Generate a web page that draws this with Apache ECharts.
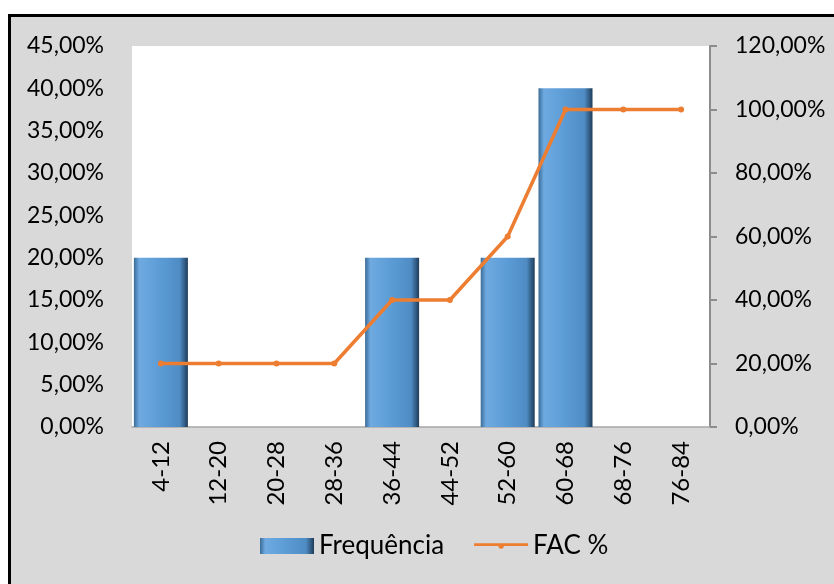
<!DOCTYPE html>
<html>
<head>
<meta charset="utf-8">
<script src="https://cdn.jsdelivr.net/npm/echarts@6/dist/echarts.min.js"></script>
<style>
html,body{margin:0;padding:0;background:#fff;}
#main{width:834px;height:584px;}
</style>
</head>
<body>
<div id="main"></div>
<script>
// classes de idade
var classes = ['4-12','12-20','20-28','28-36','36-44','44-52','52-60','60-68','68-76','76-84'];
// frequencia relativa (%)
var frequencia = [20,0,0,0,20,0,20,40,0,0];
// frequencia acumulada (%)
var fac = [20,20,20,20,40,40,60,100,100,100];

var fonte = 'Lato';

var pct = function(v){
    return v.toFixed(2).replace('.', ',') + '%';
}

var myChart = echarts.init(document.getElementById('main'));

var barColor = new echarts.graphic.LinearGradient(0,0,1,0,[
    {offset:0, color:'#3b6c98'},
    {offset:0.1, color:'#6eaae0'},
    {offset:0.5, color:'#5b9bd5'},
    {offset:0.85, color:'#4f8cc4'},
    {offset:1, color:'#1e3c5a'}
]);

var option = {
    backgroundColor:'#fff',
    animation:false,
    graphic:[{
        type:'rect',
        z:-10,
        shape:{x:9.5, y:15.5, width:900, height:700},
        style:{fill:'#d9d9d9', stroke:'#000', lineWidth:3}
    },{
        type:'rect',
        z:-9,
        shape:{x:132, y:46, width:578, height:381},
        style:{fill:'#fff'}
    }],
    grid:{left:132, right:124, top:46, bottom:157},
    legend:{
        bottom:20,
        left:255,
        itemWidth:54,
        itemHeight:16,
        itemGap:30,
        textStyle:{fontFamily:fonte, fontSize:26, color:'#000'},
        data:[
            {name:'Frequência', icon:'rect'},
            {name:'FAC %', icon:'path://M0,6 L40,6 L40,8 L22,8 A2,2 0 1 1 18,8 L0,8 Z'}
        ]
    },
    xAxis:{
        type:'category',
        data:classes,
        axisLine:{lineStyle:{color:'#a6a6a6', width:1.5}},
        axisTick:{show:false},
        axisLabel:{rotate:90, margin:14, fontFamily:fonte, fontSize:24, color:'#000'}
    },
    yAxis:[{
        type:'value',
        min:0, max:45, interval:5,
        axisLine:{show:false},
        axisTick:{show:false},
        splitLine:{show:false},
        axisLabel:{margin:28, fontFamily:fonte, fontSize:23, color:'#000', formatter:pct}
    },{
        type:'value',
        min:0, max:120, interval:20,
        axisLine:{show:true, lineStyle:{color:'#8c8c8c', width:2}},
        axisTick:{show:true, length:7, lineStyle:{color:'#8c8c8c', width:2}},
        splitLine:{show:false},
        axisLabel:{margin:25, fontFamily:fonte, fontSize:23, color:'#000', formatter:pct}
    }],
    series:[{
        name:'Frequência',
        type:'bar',
        yAxisIndex:0,
        barWidth:54,
        itemStyle:{color:barColor, borderWidth:0},
        data:frequencia
    },{
        name:'FAC %',
        type:'line',
        yAxisIndex:1,
        symbol:'circle',
        symbolSize:6,
        lineStyle:{color:'#ed7d31', width:3.5},
        itemStyle:{color:'#ed7d31'},
        data:fac
    }]
};

myChart.setOption(option);
</script>
</body>
</html>
